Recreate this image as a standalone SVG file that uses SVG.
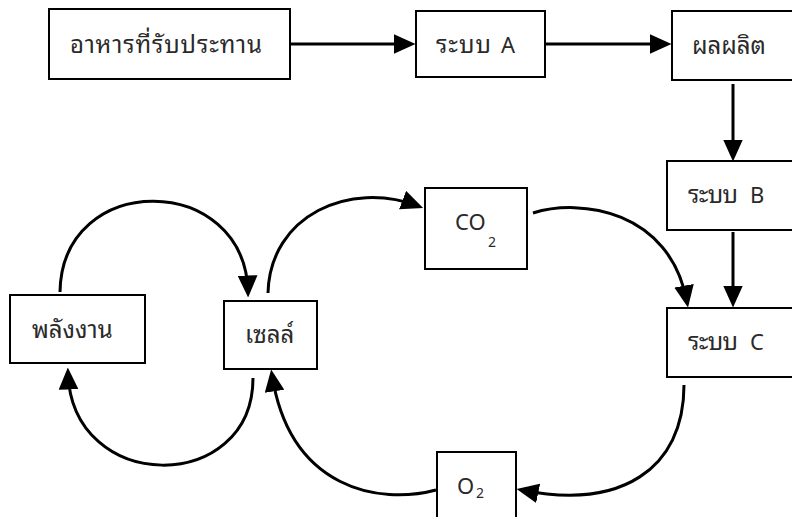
<svg xmlns="http://www.w3.org/2000/svg" width="792" height="517" viewBox="0 0 792 517">
<style>
.box{fill:#fff;stroke:#000;stroke-width:2}
.lbl{font-family:"Leelawadee UI","Noto Sans Thai Looped","Loma","Garuda","Noto Sans Thai","Noto Sans","DejaVu Sans",sans-serif;font-size:24px;fill:#2a2a2a}
.lat{font-family:"Noto Sans","DejaVu Sans",sans-serif;font-size:22px}
.sub{font-family:"Noto Sans","DejaVu Sans",sans-serif;font-size:14px}
.con{fill:none;stroke:#000;stroke-width:3;marker-end:url(#ah)}
</style>
<defs>
<marker id="ah" markerUnits="userSpaceOnUse" markerWidth="22" markerHeight="20" viewBox="0 0 20 18" refX="15" refY="9" orient="auto">
<path d="M0,0 L20,9 L0,18 z" fill="#000"/>
</marker>
</defs>
<rect width="792" height="517" fill="#fff"/>
<g id="connectors">
<path class="con" d="M291,44 L410,44"/>
<path class="con" d="M546,44 L666,44"/>
<path class="con" d="M733,84 L733,156"/>
<path class="con" d="M733,232 L733,302"/>
<path class="con" d="M533,213 C580,198 670,210 687,302"/>
<path class="con" d="M268,293 C270,215 350,180 418,206"/>
<path class="con" d="M60,292 C62,170 245,172 248,292"/>
<path class="con" d="M253,378 C253,495 72,495 68,373"/>
<path class="con" d="M684,385 C684,470 620,510 522,490"/>
<path class="con" d="M436,490 C380,505 290,490 272,375"/>
</g>
<g id="food"><rect class="box" x="49" y="9" width="241" height="70"/><text class="lbl" x="70" y="53" textLength="192">อาหารที่รับประทาน</text></g>
<g id="sysA"><rect class="box" x="416" y="11" width="129" height="66"/><text class="lbl" x="436" y="53" textLength="55">ระบบ</text><text class="lbl lat" x="501" y="53">A</text></g>
<g id="product"><rect class="box" x="672" y="11" width="135" height="69"/><text class="lbl" x="692" y="54">ผลผลิต</text></g>
<g id="sysB"><rect class="box" x="667" y="161" width="140" height="69"/><text class="lbl" x="688" y="203" textLength="50">ระบบ</text><text class="lbl lat" x="750" y="203">B</text></g>
<g id="sysC"><rect class="box" x="667" y="308" width="140" height="69"/><text class="lbl" x="688" y="350" textLength="50">ระบบ</text><text class="lbl lat" x="750" y="350">C</text></g>
<g id="co2"><rect class="box" x="425" y="188" width="102" height="81"/><text class="lbl lat" x="455" y="230">CO<tspan class="sub" x="488" y="247">2</tspan></text></g>
<g id="o2"><rect class="box" x="437" y="452" width="79" height="80"/><text class="lbl lat" x="457" y="494">O<tspan class="sub" x="476" y="498">2</tspan></text></g>
<g id="energy"><rect class="box" x="10" y="295" width="135" height="68"/><text class="lbl" x="32" y="338">พลังงาน</text></g>
<g id="cell"><rect class="box" x="224" y="301" width="93" height="68"/><text class="lbl" x="245" y="343">เซลล์</text></g>
</svg>
